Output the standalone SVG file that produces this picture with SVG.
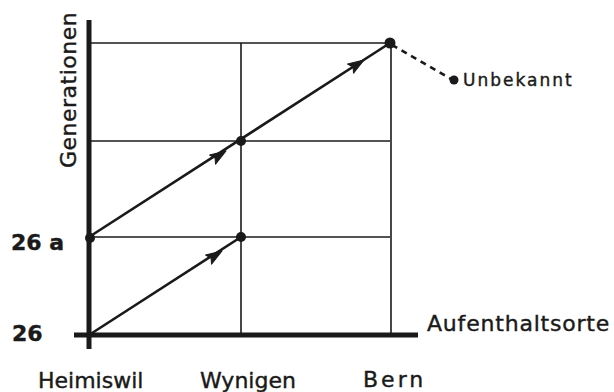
<svg xmlns="http://www.w3.org/2000/svg" width="614" height="392" viewBox="0 0 614 392">
<style>
.grid{stroke:#1a1a1a;stroke-width:1.6;fill:none}
.axis{stroke:#1a1a1a;stroke-width:5;fill:none}
.path{stroke:#1a1a1a;stroke-width:2.6;fill:none}
.dash{stroke:#1a1a1a;stroke-width:2.6;fill:none;stroke-dasharray:6 5}
.dot{fill:#1a1a1a}
text{font-family:"DejaVu Sans","Liberation Sans",sans-serif;fill:#1a1a1a;stroke:#1a1a1a;stroke-width:0.4}
.lbl{font-size:22px}
.num{font-size:22px;font-weight:bold}
</style>
<defs>
<path id="ah" d="M0,0 L-16,-5.5 L-13,0 L-16,5.5 Z" fill="#1a1a1a" stroke="#1a1a1a" stroke-width="1" stroke-linejoin="round"/>
</defs>
<rect width="614" height="392" fill="#ffffff"/>
<g id="grid">
<line class="grid" x1="89" y1="43" x2="390" y2="43"/>
<line class="grid" x1="89" y1="141" x2="390" y2="141"/>
<line class="grid" x1="89" y1="237" x2="390" y2="237"/>
<line class="grid" x1="241" y1="43" x2="241" y2="335"/>
<line class="grid" x1="391" y1="43" x2="391" y2="335"/>
</g>
<g id="axes">
<line class="axis" x1="89" y1="20" x2="89" y2="349"/>
<line class="axis" x1="74" y1="335" x2="418" y2="335"/>
</g>
<g id="connectors">
<line class="path" x1="89" y1="335" x2="241" y2="237"/>
<line class="path" x1="89" y1="237" x2="390" y2="43"/>
<use href="#ah" transform="translate(222,251) rotate(-32.8)"/>
<use href="#ah" transform="translate(226,151) rotate(-32.8)"/>
<use href="#ah" transform="translate(364,60) rotate(-32.8)"/>
<path class="dash" d="M392,45 L451,79"/>
</g>
<g id="node-26a"><circle class="dot" cx="90" cy="238" r="5"/></g>
<g id="node-wynigen-26a"><circle class="dot" cx="241" cy="237" r="5"/></g>
<g id="node-wynigen-mid"><circle class="dot" cx="241" cy="141" r="5"/></g>
<g id="node-bern"><circle class="dot" cx="390" cy="43" r="5.5"/></g>
<g id="node-unbekannt"><circle class="dot" cx="454" cy="80" r="4.5"/>
<text x="463" y="86" style="font-size:17px;letter-spacing:2px">Unbekannt</text></g>
<g id="labels">
<text class="lbl" transform="translate(76,168) rotate(-90)" style="letter-spacing:0.5px">Generationen</text>
<text class="num" x="11" y="250">26 a</text>
<text class="num" x="12" y="341">26</text>
<text class="lbl" x="38" y="388">Heimiswil</text>
<text class="lbl" x="200" y="388">Wynigen</text>
<text class="lbl" x="363" y="387" style="letter-spacing:3px">Bern</text>
<text class="lbl" x="427" y="331" style="letter-spacing:0.8px">Aufenthaltsorte</text>
</g>
</svg>
